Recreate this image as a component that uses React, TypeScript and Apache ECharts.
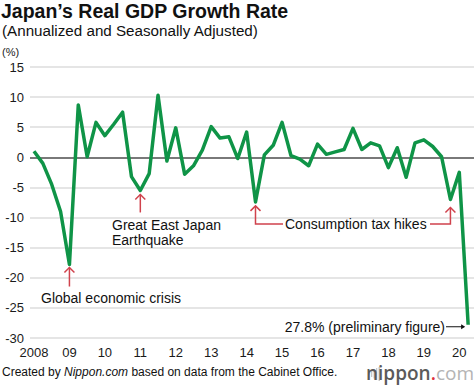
import React, { useEffect, useRef } from "react";
import * as echarts from "echarts";

const yearLabels = ["2008", "09", "10", "11", "12", "13", "14", "15", "16", "17", "18", "19", "20"];
// Quarterly real GDP growth (annualized, %), 2008 Q1 – 2020 Q2
const gdpValues = [
  1.0, -1.0, -4.5, -9.0,
  -17.8, 8.7, 0.1, 5.8,
  3.6, 5.5, 7.5, -3.2,
  -5.5, -2.7, 10.3, -0.6,
  4.9, -2.8, -1.4, 1.2,
  5.1, 3.2, 3.4, -0.2,
  4.2, -7.4, 0.4, 2.0,
  5.8, 0.3, -0.3, -1.4,
  2.2, 0.5, 0.9, 1.3,
  4.8, 1.3, 2.4, 1.9,
  -1.7, 1.6, -3.3, 2.4,
  2.9, 1.8, 0.1, -7.0,
  -2.5, -27.8,
];
const yTicks = { min: -30, max: 15, interval: 5 };
const crisisIdx = 4;
const quakeIdx = 12;
const taxIdx = [25, 47];
const lastIdx = gdpValues.length - 1;

const FONT = '"Liberation Sans", Arial, Helvetica, sans-serif';
const RED = "#d0424c";
const GREEN = "#0f9447";

function upHead(x: number, y: number, color: string) {
  return {
    type: "polyline",
    shape: { points: [[x - 5, y + 5], [x, y], [x + 5, y + 5]] },
    style: { stroke: color, lineWidth: 1.5, fill: null },
    silent: true,
  };
}

export default function App() {
  const ref = useRef<HTMLDivElement>(null);
  useEffect(() => {
    if (!ref.current) return;
    const chart = echarts.init(ref.current, null, { renderer: "svg" });
    const data = gdpValues.map((v, i) => [i, v]);
    const labelIdx = yearLabels.map((_, k) => k * 4);
    chart.setOption({
      animation: false,
      textStyle: { fontFamily: FONT },
      title: [
        {
          text: "Japan’s Real GDP Growth Rate",
          left: 1,
          top: 1,
          padding: 0,
          textStyle: { fontSize: 19.5, fontWeight: "bold", color: "#111", fontFamily: FONT },
        },
        {
          text: "(Annualized and Seasonally Adjusted)",
          left: 2,
          top: 23,
          padding: 0,
          textStyle: { fontSize: 15.2, fontWeight: "normal", color: "#111", fontFamily: FONT },
        },
        {
          text: "(%)",
          left: 2,
          top: 46,
          padding: 0,
          textStyle: { fontSize: 11, fontWeight: "normal", color: "#222", fontFamily: FONT },
        },
      ],
      grid: { left: 30, right: 0, top: 67, bottom: 53, containLabel: false },
      xAxis: {
        type: "value",
        min: -0.45,
        max: 49.66,
        axisLine: { show: false },
        axisTick: { show: false },
        splitLine: { show: false },
        axisLabel: {
          customValues: labelIdx,
          formatter: (v: number) => yearLabels[Math.round(v / 4)] ?? "",
          color: "#1a1a1a",
          fontSize: 13,
          margin: 8,
          fontFamily: FONT,
        },
      },
      yAxis: {
        type: "value",
        min: yTicks.min,
        max: yTicks.max,
        interval: yTicks.interval,
        axisLine: { show: false },
        axisTick: { show: false },
        axisLabel: { color: "#1a1a1a", fontSize: 13, margin: 6, fontFamily: FONT },
        splitLine: { lineStyle: { color: "#dcdcdc", width: 1.5 } },
      },
      series: [
        {
          type: "line",
          data,
          showSymbol: false,
          symbol: "none",
          lineStyle: { color: GREEN, width: 3.5, join: "round" },
          z: 5,
          markLine: {
            silent: true,
            symbol: ["none", "none"],
            label: { show: false },
            lineStyle: { color: "#555", width: 1.5, type: "solid" },
            data: [{ yAxis: 0 }],
            z: 3,
          },
        },
      ],
    });

    const px = (i: number) =>
      chart.convertToPixel({ gridIndex: 0 }, [i, gdpValues[i]]) as number[];
    const c = px(crisisIdx);
    const q = px(quakeIdx);
    const t1 = px(taxIdx[0]);
    const t2 = px(taxIdx[1]);
    const last = px(lastIdx);
    const annY = 224;
    const textStyle = (extra: any) => ({ fontFamily: FONT, fontSize: 14, fill: "#111", ...extra });

    chart.setOption({
      graphic: [
        // Global economic crisis
        { type: "line", shape: { x1: c[0], y1: c[1] + 3, x2: c[0], y2: c[1] + 22 }, style: { stroke: RED, lineWidth: 1.5 }, silent: true },
        upHead(c[0], c[1] + 3, RED),
        { type: "text", x: 41, y: 298, style: textStyle({ text: "Global economic crisis", verticalAlign: "middle" }) },
        // Earthquake
        { type: "line", shape: { x1: q[0], y1: q[1] + 4, x2: q[0], y2: q[1] + 22 }, style: { stroke: RED, lineWidth: 1.5 }, silent: true },
        upHead(q[0], q[1] + 4, RED),
        { type: "text", x: 112, y: 217, style: textStyle({ text: "Great East Japan\nEarthquake", lineHeight: 15, verticalAlign: "top" }) },
        // Consumption tax hikes
        { type: "polyline", shape: { points: [[t1[0], t1[1] + 4], [t1[0], annY], [283, annY]] }, style: { stroke: RED, lineWidth: 1.5, fill: null }, silent: true },
        upHead(t1[0], t1[1] + 4, RED),
        { type: "polyline", shape: { points: [[t2[0], t2[1] + 8], [t2[0], annY], [430, annY]] }, style: { stroke: RED, lineWidth: 1.5, fill: null }, silent: true },
        upHead(t2[0], t2[1] + 8, RED),
        { type: "text", x: 285, y: annY, style: textStyle({ text: "Consumption tax hikes", verticalAlign: "middle" }) },
        // Preliminary figure
        { type: "text", x: 445, y: last[1] + 2, style: textStyle({ text: "27.8% (preliminary figure)", align: "right", verticalAlign: "middle" }) },
        { type: "line", shape: { x1: 446, y1: last[1] + 2, x2: last[0] - 4, y2: last[1] + 2 }, style: { stroke: "#111", lineWidth: 1 }, silent: true },
        { type: "polygon", shape: { points: [[last[0] - 3, last[1] + 2], [last[0] - 7, last[1] - 0.5], [last[0] - 7, last[1] + 4.5]] }, style: { fill: "#111" }, silent: true },
        // Footer
        {
          type: "text",
          x: 2,
          y: 372,
          style: {
            text: "{a|Created by }{b|Nippon.com}{a| based on data from the Cabinet Office.}",
            verticalAlign: "middle",
            rich: {
              a: { fontFamily: FONT, fontSize: 12, fill: "#111" },
              b: { fontFamily: FONT, fontSize: 12, fill: "#111", fontStyle: "italic" },
            },
          },
        },
        // Logo
        { type: "rect", shape: { x: 371, y: 371, width: 1.3, height: 6 }, style: { fill: "#c8c8c8" }, silent: true },
        { type: "rect", shape: { x: 373.5, y: 369.5, width: 1.3, height: 9 }, style: { fill: "#c8c8c8" }, silent: true },
        { type: "rect", shape: { x: 376, y: 368, width: 1.3, height: 12 }, style: { fill: "#c8c8c8" }, silent: true },
        { type: "rect", shape: { x: 378.5, y: 367, width: 1.5, height: 14 }, style: { fill: "#c8c8c8" }, silent: true },
        {
          type: "text",
          x: 474,
          y: 373,
          style: {
            text: "{n|nippon}{d|.}{c|com}",
            align: "right",
            verticalAlign: "middle",
            rich: {
              n: { fontFamily: '"Open Sans", sans-serif', fontSize: 19, lineHeight: 19, fontWeight: 600, fill: "#5a5a5a" },
              d: { fontFamily: '"Open Sans", sans-serif', fontSize: 19, lineHeight: 19, fontWeight: 600, fill: "#e0323c" },
              c: { fontFamily: '"Open Sans", sans-serif', fontSize: 19, lineHeight: 19, fontWeight: 400, fill: "#b4b4b4" },
            },
          },
        },
      ],
    });
    return () => chart.dispose();
  }, []);
  return <div ref={ref} style={{ width: 474, height: 391, position: "absolute", left: 0, top: 0 }} />;
}
